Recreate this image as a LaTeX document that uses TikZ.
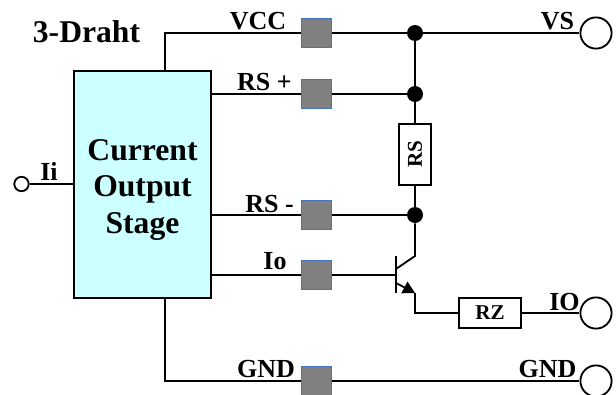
\documentclass[tikz,border=0pt]{standalone}
\usepackage{fontspec}
\setmainfont{Liberation Serif}
\usetikzlibrary{
  arrows.meta,
  calc,
  positioning
}
\definecolor{blockcyan}{RGB}{204,255,255}
\definecolor{padgray}{RGB}{128,128,128}
\definecolor{padblue}{RGB}{68,114,196}

\tikzset{
  wire/.style={line width=1.3pt, black},
  padbox/.style={draw=padblue, fill=padgray, line width=0.8pt, minimum width=0.76cm, minimum height=0.74cm, inner sep=0pt},
  junction/.style={circle, fill=black, inner sep=0pt, minimum size=0.4cm},
  terminal/.style={circle, draw=black, fill=white, line width=1.3pt, inner sep=0pt, minimum size=0.78cm},
  resbox/.style={draw=black, fill=white, line width=1.3pt, inner sep=0pt, font=\fontsize{15}{15}\selectfont\bfseries},
  siglabel/.style={anchor=base, inner sep=0pt, font=\fontsize{18.5}{18.5}\selectfont\bfseries}
}

\begin{document}
\begin{tikzpicture}[x=0.025cm, y=-0.025cm]
  \useasboundingbox (0,0) rectangle (616,394);

  % Output stage block
  \node[draw=black, fill=blockcyan, line width=1pt, minimum width=3.425cm, minimum height=5.675cm, inner sep=0pt] (block) at (142.5,184.5) {};
  \node[inner sep=0pt, align=center, font=\fontsize{22.5}{26}\selectfont\bfseries] (blocktext) at (142.5,190) {Current\\Output\\Stage};
  \coordinate (blocktop) at (165,71);
  \coordinate (blockbot) at (165,298);

  % Gray pads
  \foreach \name/\y in {vcc/33, rsp/94, rsm/215, io/275, gnd/381} {
    \node[padbox] (pad\name) at (316.5,\y) {};
  }

  % Junctions and terminals
  \node[junction] (dotvs) at (415,33) {};
  \node[junction] (dotrsp) at (415,94) {};
  \node[junction] (dotrsm) at (415,215) {};
  \node[terminal] (termvs) at (596,33) {};
  \node[terminal] (termio) at (596,313) {};
  \node[terminal] (termgnd) at (596,381) {};
  \node[circle, draw=black, fill=white, line width=1.3pt, inner sep=0pt, minimum size=0.36cm] (termi) at (21.5,184) {};

  % Resistors
  \node[resbox, minimum width=0.78cm, minimum height=1.52cm] (rsbox) at (415,154.5) {\rotatebox{90}{RS}};
  \node[resbox, minimum width=1.55cm, minimum height=0.76cm] (rzbox) at (490,313) {RZ};

  % Transistor
  \coordinate (qbase) at (396,275);
  \coordinate (qtop) at (396,256);
  \coordinate (qbot) at (396,293);
  \coordinate (qcin) at (396,269);
  \coordinate (qcout) at (415,256);
  \coordinate (qein) at (396,283);
  \coordinate (qeout) at (415,293);
  \coordinate (qecorner) at (415,313);
  \draw[wire] (qtop) -- (qbot);
  \draw[wire] (qcin) -- (qcout) -- (dotrsm);
  \draw[wire, -{Triangle[length=0.3cm, width=0.32cm]}] (qein) -- (qeout);
  \draw[wire] (qeout) -- (qecorner) -- (rzbox.west);
  \draw[wire] (padio.east) -- (qbase);

  % Wires
  \draw[wire] (blocktop) |- (padvcc.west);
  \draw[wire] (block.east |- padrsp.west) -- (padrsp.west);
  \draw[wire] (block.east |- padrsm.west) -- (padrsm.west);
  \draw[wire] (block.east |- padio.west) -- (padio.west);
  \draw[wire] (blockbot) |- (padgnd.west);
  \draw[wire] (termi) -- (block.west |- termi);
  \draw[wire] (padvcc.east) -- (dotvs) -- (termvs);
  \draw[wire] (padrsp.east) -- (dotrsp);
  \draw[wire] (padrsm.east) -- (dotrsm);
  \draw[wire] (dotvs) -- (dotrsp) -- (rsbox.north);
  \draw[wire] (rsbox.south) -- (dotrsm);
  \draw[wire] (rzbox.east) -- (termio);
  \draw[wire] (padgnd.east) -- (termgnd);

  % Labels
  \node[siglabel, font=\fontsize{22.5}{22.5}\selectfont\bfseries] (title) at (86.5,43) {3-Draht};
  \node[siglabel] (lblvcc) at (258,30) {VCC};
  \node[siglabel] (lblrsp) at (264.5,91) {RS +};
  \node[siglabel] (lblrsm) at (269.5,212) {RS -};
  \node[siglabel] (lblio) at (275,269) {Io};
  \node[siglabel] (lblgnd) at (266,377) {GND};
  \node[siglabel] (lblii) at (49,180) {Ii};
  \node[siglabel] (lblvs) at (557.5,30) {VS};
  \node[siglabel] (lbliout) at (564.5,310) {IO};
  \node[siglabel] (lblgndout) at (547.5,377) {GND};
\end{tikzpicture}
\end{document}
